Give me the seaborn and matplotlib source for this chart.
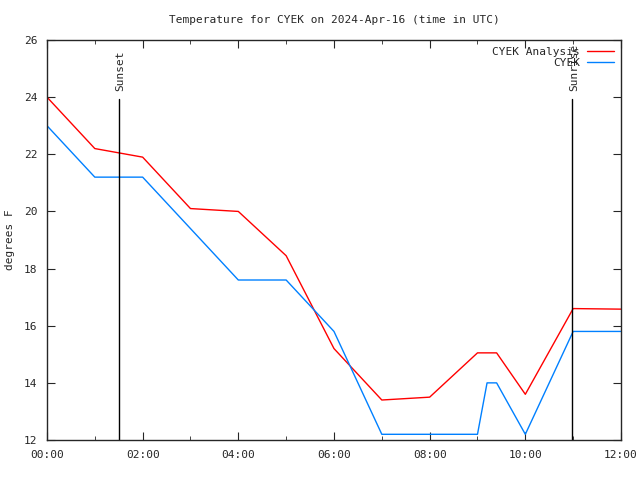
import pandas as pd
import numpy as np
import matplotlib.pyplot as plt
import seaborn as sns

sns.set_style("ticks")
plt.rcParams['font.family'] = ['DejaVu Sans Mono', 'DejaVu Sans']

# hours after 00:00 UTC
analysis_hours = [0, 1, 2, 3, 4, 5, 6, 7, 8, 9, 9.4, 10, 11, 12]
analysis_temp = [24.0, 22.2, 21.9, 20.1, 20.0, 18.45, 15.2, 13.4, 13.5, 15.05, 15.05, 13.6, 16.6, 16.58]

obs_hours = [0, 1, 2, 3, 4, 5, 6, 7, 8, 9, 9.2, 9.4, 10, 11, 12]
obs_temp = [23.0, 21.2, 21.2, 19.4, 17.6, 17.6, 15.8, 12.2, 12.2, 12.2, 14.0, 14.0, 12.2, 15.8, 15.8]

sunset = 1.5
sunrise = 10.98
tick_labels = ["00:00", "02:00", "04:00", "06:00", "08:00", "10:00", "12:00"]

df_a = pd.DataFrame({"hour": analysis_hours, "temp": analysis_temp})
df_o = pd.DataFrame({"hour": obs_hours, "temp": obs_temp})

fig = plt.figure(figsize=(6.4, 4.8), dpi=100)
ax = fig.add_axes([0.0734, 0.0833, 0.8969, 0.8334])

sns.lineplot(data=df_a, x="hour", y="temp", color="#ff0000", linewidth=1, ax=ax, label="CYEK Analysis")
sns.lineplot(data=df_o, x="hour", y="temp", color="#0080ff", linewidth=1, ax=ax, label="CYEK")

for t, name in [(sunset, "Sunset"), (sunrise, "Sunrise")]:
    ax.plot([t, t], [12, 23.95], color="black", linewidth=1)
    ax.text(t + 0.04, 24.2, name, rotation=90, ha="center", va="bottom", fontsize=8)

ax.set_xlim(0, 12)
ax.set_ylim(12, 26)
ax.set_xticks(np.arange(0, 13, 2))
ax.set_xticklabels(tick_labels)
ax.set_xticks(np.arange(1, 12, 2), minor=True)
ax.set_yticks(np.arange(12, 27, 2))
ax.tick_params(axis="both", which="both", direction="in", top=True, right=True, labelsize=8, pad=7)
ax.tick_params(which="major", length=6)
ax.tick_params(which="minor", length=3)
for s in ax.spines.values():
    s.set_linewidth(1)

ax.set_xlabel("")
ax.set_ylabel("degrees F", fontsize=8, labelpad=6)
ax.set_title("Temperature for CYEK on 2024-Apr-16 (time in UTC)", fontsize=8, pad=12)

leg = ax.legend(loc="upper right", frameon=False, fontsize=8, handlelength=2.5, markerfirst=False,
                borderaxespad=0.2, labelspacing=0.1, handletextpad=0.6)
for t in leg.get_texts():
    t.set_ha("right")

fig.savefig("out.png", dpi=100)
